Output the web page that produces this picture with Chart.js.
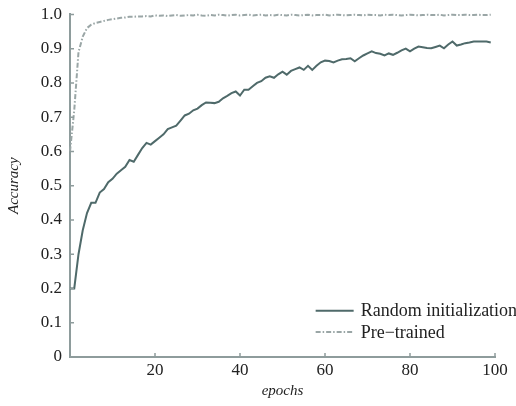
<!DOCTYPE html>
<html><head><meta charset="utf-8">
<script src="https://cdn.jsdelivr.net/npm/chart.js"></script>
<style>html,body{margin:0;padding:0;background:#fff}#wrap{width:516px;height:406px}</style>
</head><body><div id="wrap"><canvas id="c" width="516" height="406"></canvas></div>
<script>
const epochs = [0,1,2,3,4,5,6,7,8,9,10,11,12,13,14,15,16,17,18,19,20,21,22,23,24,25,26,27,28,29,30,31,32,33,34,35,36,37,38,39,40,41,42,43,44,45,46,47,48,49,50,51,52,53,54,55,56,57,58,59,60,61,62,63,64,65,66,67,68,69,70,71,72,73,74,75,76,77,78,79,80,81,82,83,84,85,86,87,88,89,90,91,92,93,94,95,96,97,98,99];
const randomInit = [0.20,0.20,0.30,0.37,0.42,0.45,0.45,0.48,0.49,0.51,0.52,0.535,0.545,0.555,0.575,0.57,0.59,0.61,0.625,0.62,
0.63,0.64,0.65,0.665,0.67,0.675,0.69,0.705,0.71,0.72,0.725,0.735,0.743,0.742,0.741,0.745,0.755,0.762,0.77,0.775,
0.763,0.78,0.78,0.79,0.80,0.805,0.815,0.819,0.815,0.825,0.833,0.824,0.835,0.84,0.845,0.838,0.85,0.838,0.85,0.86,
0.865,0.864,0.86,0.865,0.869,0.87,0.872,0.863,0.872,0.88,0.886,0.892,0.887,0.885,0.88,0.886,0.882,0.888,0.895,0.90,
0.892,0.90,0.906,0.904,0.902,0.901,0.905,0.909,0.901,0.912,0.921,0.909,0.912,0.916,0.918,0.921,0.921,0.921,0.921,0.918];
const preTrained = [0.60,0.72,0.89,0.935,0.96,0.97,0.975,0.978,0.981,0.984,0.986,0.988,0.99,0.991,0.993,0.993,0.994,0.994,0.995,0.994,
0.997,0.996,0.997,0.995,0.997,0.998,0.996,0.997,0.998,0.997,0.999,0.997,0.996,0.998,0.997,0.999,0.998,0.996,0.998,0.999,
0.997,0.998,0.999,0.997,0.998,0.999,0.997,0.998,0.997,0.999,0.998,0.997,0.999,0.998,0.997,0.998,0.999,0.997,0.998,0.998,
0.999,0.997,0.998,0.999,0.998,0.997,0.998,0.999,0.998,0.997,0.999,0.998,0.998,0.997,0.999,0.998,0.999,0.998,0.997,0.998,
0.999,0.998,0.997,0.998,0.999,0.998,0.998,0.999,0.997,0.998,0.999,0.998,0.998,0.999,0.998,0.998,0.999,0.998,0.998,0.999];
const seriesNames = ['Random initialization', 'Pre\u2212trained'];
const yTicks = [0,0.1,0.2,0.3,0.4,0.5,0.6,0.7,0.8,0.9,1.0];
const xTicks = [20,40,60,80,100];

const axisColor = '#8e9c9c';
const serif = "'Liberation Serif', 'DejaVu Serif', serif";

const inTicks = {
  id: 'inTicks',
  afterDraw(chart) {
    const {ctx, chartArea: a, scales: {x, y}} = chart;
    ctx.save();
    ctx.strokeStyle = axisColor;
    ctx.lineWidth = 1.5;
    ctx.beginPath();
    yTicks.forEach(v => { const py = y.getPixelForValue(v); ctx.moveTo(a.left, py); ctx.lineTo(a.left + 4, py); });
    xTicks.forEach(v => { const px = x.getPixelForValue(v); ctx.moveTo(px, a.bottom); ctx.lineTo(px, a.bottom - 4); });
    ctx.stroke();
    ctx.restore();
  }
};

const insideLegend = {
  id: 'insideLegend',
  afterDraw(chart) {
    const {ctx} = chart;
    const x = chart.scales.x, y = chart.scales.y;
    const left = x.getPixelForValue(57.8);
    const rows = [y.getPixelForValue(0.135), y.getPixelForValue(0.073)];
    ctx.save();
    chart.data.datasets.forEach((ds, i) => {
      const cy = rows[i];
      ctx.strokeStyle = ds.borderColor;
      ctx.lineWidth = ds.borderWidth;
      ctx.setLineDash(ds.borderDash || []);
      ctx.beginPath(); ctx.moveTo(left, cy); ctx.lineTo(left + 38, cy); ctx.stroke();
      ctx.setLineDash([]);
      ctx.fillStyle = '#222';
      ctx.font = "18px " + serif;
      ctx.textBaseline = 'middle';
      ctx.textAlign = 'left';
      ctx.fillText(ds.label, left + 45, cy + 1);
    });
    ctx.restore();
  }
};

new Chart(document.getElementById('c'), {
  type: 'line',
  data: {
    datasets: [
      { label: seriesNames[0], data: randomInit.map((v, i) => ({x: epochs[i], y: v})),
        borderColor: '#4f6a6a', borderWidth: 2, pointRadius: 0, tension: 0, clip: false },
      { label: seriesNames[1], data: preTrained.map((v, i) => ({x: epochs[i], y: v})),
        borderColor: '#9aa6a6', borderWidth: 2, borderDash: [5, 2, 1.5, 2], pointRadius: 0, tension: 0, clip: false }
    ]
  },
  options: {
    responsive: false, animation: false, devicePixelRatio: 1,
    layout: { padding: { top: 0, right: 21, left: 0, bottom: 0 } },
    plugins: { legend: { display: false }, tooltip: { enabled: false } },
    scales: {
      x: {
        type: 'linear', min: 0, max: 100,
        afterFit(s) { s.height = 49; },
        grid: { display: false, drawTicks: false, tickLength: 0 },
        border: { display: true, color: axisColor, width: 2 },
        ticks: { stepSize: 20, padding: 5, color: '#222', font: { family: serif, size: 17, lineHeight: 1 },
          callback: v => (v === 0 ? '' : v), maxRotation: 0 },
        title: { display: true, text: 'epochs', color: '#222', font: { family: serif, size: 15, style: 'italic' }, padding: { top: 0, bottom: 6 } }
      },
      y: {
        min: 0, max: 1,
        afterFit(s) { s.width = 70; },
        grid: { display: false, drawTicks: false, tickLength: 0 },
        border: { display: true, color: axisColor, width: 2 },
        ticks: { stepSize: 0.1, padding: 8, color: '#222', font: { family: serif, size: 17, lineHeight: 0.75 },
          callback: v => (v === 0 ? '0' : Number(v).toFixed(1)) },
        title: { display: true, text: 'Accuracy', color: '#222', font: { family: serif, size: 15, style: 'italic' }, padding: { top: 5, bottom: 0 } }
      }
    }
  },
  plugins: [inTicks, insideLegend]
});
</script></body></html>
